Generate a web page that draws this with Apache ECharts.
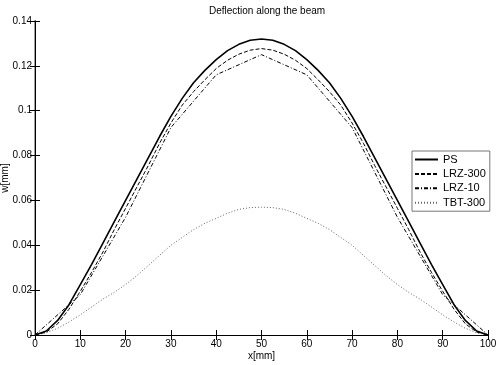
<!DOCTYPE html>
<html><head><meta charset="utf-8">
<script src="https://cdn.jsdelivr.net/npm/echarts@6/dist/echarts.min.js"></script>
<style>html,body{margin:0;padding:0;background:#fff}#c{width:500px;height:365px}</style>
</head><body><div id="c"></div>
<script>
var xFine = [0,2.5,5,7.5,10,12.5,15,17.5,20,22.5,25,27.5,30,32.5,35,37.5,40,42.5,45,47.5,50,52.5,55,57.5,60,62.5,65,67.5,70,72.5,75,77.5,80,82.5,85,87.5,90,92.5,95,97.5,100];
var psVals = [0,0.0018,0.0065,0.0135,0.0225,0.0315,0.041,0.0505,0.060,0.0695,0.079,0.0885,0.0975,0.1055,0.1125,0.118,0.1228,0.1268,0.1296,0.1314,0.132,0.1314,0.1296,0.1268,0.1228,0.118,0.1125,0.1055,0.0975,0.0885,0.079,0.0695,0.060,0.0505,0.041,0.0315,0.0225,0.0135,0.0065,0.0018,0];
var lrz300Vals = [0,0.0013,0.005,0.0115,0.0195,0.028,0.037,0.047,0.0565,0.066,0.0755,0.0855,0.0945,0.1025,0.1085,0.1138,0.1188,0.1225,0.1252,0.127,0.1277,0.127,0.1252,0.1225,0.1188,0.1138,0.1085,0.1025,0.0945,0.0855,0.0755,0.066,0.0565,0.047,0.037,0.028,0.0195,0.0115,0.005,0.0013,0];
var tbtVals = [0,0.001,0.003,0.0058,0.009,0.0125,0.016,0.019,0.0225,0.0265,0.031,0.0355,0.040,0.0435,0.047,0.0498,0.052,0.0543,0.056,0.0568,0.057,0.0568,0.056,0.0543,0.052,0.0498,0.047,0.0435,0.040,0.0355,0.031,0.0265,0.0225,0.019,0.016,0.0125,0.009,0.0058,0.003,0.001,0];
var xCoarse = [0,10,20,30,40,50,60,70,80,90,100];
var lrz10Vals = [0,0.018,0.0525,0.0925,0.116,0.125,0.116,0.0925,0.0525,0.018,0];
var seriesNames = ['PS','LRZ-300','LRZ-10','TBT-300'];

function pairs(xs, ys){ return xs.map(function(x,i){ return [x, ys[i]]; }); }
var font = 'Liberation Sans, Arial, sans-serif';
var chart = echarts.init(document.getElementById('c'), null, {renderer:'canvas'});
chart.setOption({
  animation:false,
  backgroundColor:'#fff',
  title:{text:'Deflection along the beam', left:262, top:1, textAlign:'center',
    textStyle:{fontSize:10, fontWeight:'normal', color:'#000', fontFamily:font}},
  grid:{left:35, right:12, top:21, bottom:30, outerBoundsMode:'none', containLabel:false},
  legend:{
    data:seriesNames, orient:'vertical', left:412, top:151,
    itemWidth:23, itemHeight:10, itemGap:3.4, padding:[3,4,3,2],
    borderColor:'#777', borderWidth:1, backgroundColor:'#fff', borderRadius:0,
    itemStyle:{opacity:0},
    textStyle:{fontSize:11, color:'#000', fontFamily:font}
  },
  xAxis:[{
    type:'value', min:0, max:100, interval:10, position:'bottom',
    name:'x[mm]', nameLocation:'middle', nameGap:16, nameMoveOverlap:false,
    nameTextStyle:{fontSize:10, color:'#000', fontFamily:font},
    axisLine:{lineStyle:{color:'#000', width:1}},
    axisTick:{inside:true, length:5, lineStyle:{color:'#000'}},
    axisLabel:{fontSize:10, color:'#000', margin:4, fontFamily:font},
    splitLine:{show:false}
  },{
    type:'value', min:0, max:100, interval:10, position:'top',
    axisLine:{lineStyle:{color:'#000', width:1}},
    axisTick:{inside:true, length:5, lineStyle:{color:'#000'}},
    axisLabel:{show:false}, splitLine:{show:false}
  }],
  yAxis:[{
    type:'value', min:0, max:0.14, interval:0.02, position:'left',
    name:'w[mm]', nameLocation:'middle', nameGap:25, nameRotate:90, nameMoveOverlap:false,
    nameTextStyle:{fontSize:10, color:'#000', fontFamily:font},
    axisLine:{lineStyle:{color:'#a0a0a0', width:2}},
    axisTick:{inside:true, length:5, lineStyle:{color:'#000'}},
    axisLabel:{fontSize:10, color:'#000', margin:3, fontFamily:font,
      formatter:function(v){ return String(+v.toFixed(2)); }},
    splitLine:{show:false}
  },{
    type:'value', min:0, max:0.14, interval:0.02, position:'right',
    axisLine:{lineStyle:{color:'#000', width:1}},
    axisTick:{inside:true, length:5, lineStyle:{color:'#000'}},
    axisLabel:{show:false}, splitLine:{show:false}
  }],
  series:[
    {name:'PS', type:'line', data:pairs(xFine, psVals), smooth:false, symbol:'none',
      lineStyle:{color:'#000', width:1.6, type:'solid'}, itemStyle:{color:'#000'}, z:4},
    {name:'LRZ-300', type:'line', data:pairs(xFine, lrz300Vals), smooth:false, symbol:'none',
      lineStyle:{color:'#000', width:1, type:[4,2]}, itemStyle:{color:'#000'}, z:3},
    {name:'LRZ-10', type:'line', data:pairs(xCoarse, lrz10Vals), smooth:false, symbol:'none',
      lineStyle:{color:'#000', width:1, type:[4,2,1,2]}, itemStyle:{color:'#000'}, z:3},
    {name:'TBT-300', type:'line', data:pairs(xFine, tbtVals), smooth:false, symbol:'none',
      lineStyle:{color:'#666', width:1, type:[1,2]}, itemStyle:{color:'#666'}, z:2}
  ]
});
</script></body></html>
